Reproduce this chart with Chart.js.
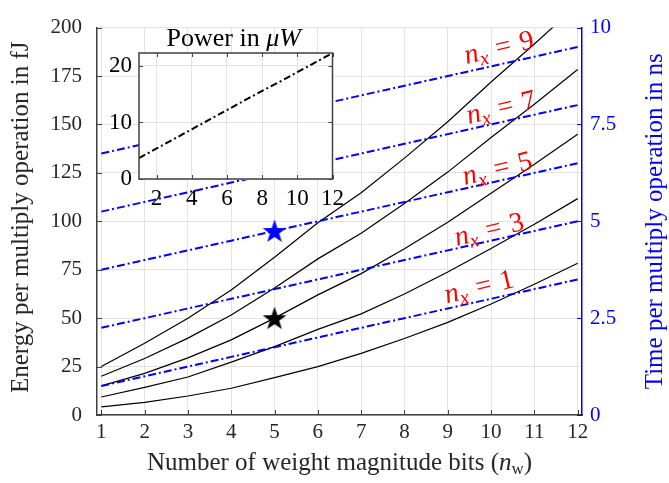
<!DOCTYPE html>
<html>
<head>
<meta charset="utf-8">
<script src="https://cdn.jsdelivr.net/npm/chart.js@4.4.0/dist/chart.umd.min.js"></script>
<style>
  body { margin: 0; background: #fff; }
  #wrap { position: relative; width: 669px; height: 483px; }
  #main { position: absolute; left: 0; top: 0; }
  #inset { position: absolute; left: 90px; top: 20px; }
</style>
</head>
<body>
<div id="wrap">
  <canvas id="main" width="669" height="483"></canvas>
  <canvas id="inset" width="260" height="200"></canvas>
</div>
<script>
// Number of weight magnitude bits (x axis)
const nwBits = [1, 2, 3, 4, 5, 6, 7, 8, 9, 10, 11, 12];

// Energy per multiply operation in fJ, one curve per n_x
const energyNx1 = [4.2, 6.5, 9.8, 13.8, 19.3, 25, 31.8, 39.5, 47.8, 57.3, 67.5, 78.3];
const energyNx3 = [9.3, 14.3, 19.6, 27.3, 35.3, 44.2, 52.2, 62.5, 73.8, 86, 98.5, 111.7];
const energyNx5 = [15, 21.5, 29.5, 38.8, 50, 62, 73, 85.8, 99.5, 114.5, 129.4, 145];
const energyNx7 = [20, 29.2, 39.7, 51.6, 65.6, 80.6, 93.8, 109.2, 125.4, 143.3, 160.4, 178.4];
const energyNx9 = [25, 37, 50, 64.5, 81.4, 99.2, 114.7, 132.6, 151.4, 171.9, 191.5, 211.9];

// Time per multiply operation in ns, one line per n_x
const timeNx1 = [0.75, 1, 1.25, 1.5, 1.75, 2, 2.25, 2.5, 2.75, 3, 3.25, 3.5];
const timeNx3 = [2.25, 2.5, 2.75, 3, 3.25, 3.5, 3.75, 4, 4.25, 4.5, 4.75, 5];
const timeNx5 = [3.75, 4, 4.25, 4.5, 4.75, 5, 5.25, 5.5, 5.75, 6, 6.25, 6.5];
const timeNx7 = [5.25, 5.5, 5.75, 6, 6.25, 6.5, 6.75, 7, 7.25, 7.5, 7.75, 8];
const timeNx9 = [6.75, 7, 7.25, 7.5, 7.75, 8, 8.25, 8.5, 8.75, 9, 9.25, 9.5];

// Power in uW (inset)
const powerUw = [3.7, 5.4, 7.1, 8.8, 10.5, 12.2, 13.9, 15.6, 17.2, 18.9, 20.6, 22.3];

// Highlighted design point
const starNw = [5];
const starEnergy = [50];
const starTime = [4.75];

const nxValues = [1, 3, 5, 7, 9];

// Tick labels
const xTicks = [1, 2, 3, 4, 5, 6, 7, 8, 9, 10, 11, 12];
const energyTicks = [0, 25, 50, 75, 100, 125, 150, 175, 200];
const timeTicks = [0, 2.5, 5, 7.5, 10];
const insetXTicks = [2, 4, 6, 8, 10, 12];
const insetYTicks = [0, 10, 20];

const SERIF = "'Liberation Serif', 'DejaVu Serif', serif";
Chart.defaults.font.family = SERIF;

const energySeries = [energyNx1, energyNx3, energyNx5, energyNx7, energyNx9];
const timeSeries = [timeNx1, timeNx3, timeNx5, timeNx7, timeNx9];

const pts = (xs, ys) => xs.map((x, i) => ({ x: x, y: ys[i] }));

function starImage(color, size) {
    const c = document.createElement('canvas');
    c.width = size; c.height = size;
    const g = c.getContext('2d');
    const cx = size / 2, cy = size / 2 + 1, R = size / 2 - 0.5, r = R * 0.39;
    g.beginPath();
    for (let i = 0; i < 10; i++) {
        const rad = i % 2 ? r : R;
        const a = -Math.PI / 2 + i * Math.PI / 5;
        g.lineTo(cx + rad * Math.cos(a), cy + rad * Math.sin(a));
    }
    g.closePath();
    g.fillStyle = color;
    g.fill();
    return c;
}

// draw a run of text pieces (for subscripts / italics)
function drawPieces(ctx, pieces, cx, cy) {
    let total = 0;
    pieces.forEach(p => {
        ctx.font = p.font;
        p.w = ctx.measureText(p.text).width;
        total += p.w + (p.gap || 0);
    });
    let x = cx - total / 2;
    ctx.textBaseline = 'alphabetic';
    ctx.textAlign = 'left';
    pieces.forEach(p => {
        x += p.gap || 0;
        ctx.font = p.font;
        ctx.fillText(p.text, x, cy + (p.dy || 0));
        x += p.w;
    });
}

const blueLineDatasets = timeSeries.map(t => ({
    data: pts(nwBits, t),
    yAxisID: 'yTime',
    borderColor: '#0000ff',
    borderWidth: 2,
    borderDash: [8, 3, 2, 3],
    pointRadius: 0,
    tension: 0
}));

const blackLineDatasets = energySeries.map(e => ({
    data: pts(nwBits, e),
    yAxisID: 'yEnergy',
    borderColor: '#000000',
    borderWidth: 1.2,
    pointRadius: 0,
    tension: 0
}));

const starDatasets = [
    { data: pts(starNw, starEnergy), yAxisID: 'yEnergy', showLine: false,
      pointStyle: starImage('#000000', 26), pointRadius: 12 },
    { data: pts(starNw, starTime), yAxisID: 'yTime', showLine: false,
      pointStyle: starImage('#0000ff', 26), pointRadius: 12 }
];

// label anchors (data coords) for the red n_x labels
const labelAt = [
    { nw: 9.72, e: 66.5 },
    { nw: 9.95, e: 96 },
    { nw: 10.14, e: 127.5 },
    { nw: 10.23, e: 159 },
    { nw: 10.18, e: 190 }
];

const tickMarks = {
    id: 'tickMarks',
    afterDatasetsDraw(chart) {
        const { ctx, chartArea: a, scales } = chart;
        ctx.save();
        ctx.lineWidth = 1;
        ctx.strokeStyle = '#404040';
        ctx.beginPath();
        xTicks.forEach(v => {
            const px = Math.round(scales.x.getPixelForValue(v)) + 0.5;
            ctx.moveTo(px, a.bottom); ctx.lineTo(px, a.bottom - 5);
        });
        energyTicks.forEach(v => {
            const py = Math.round(scales.yEnergy.getPixelForValue(v)) + 0.5;
            ctx.moveTo(a.left, py); ctx.lineTo(a.left + 5, py);
        });
        ctx.stroke();
        ctx.strokeStyle = '#0000ff';
        ctx.beginPath();
        timeTicks.forEach(v => {
            const py = Math.round(scales.yTime.getPixelForValue(v)) + 0.5;
            ctx.moveTo(a.right, py); ctx.lineTo(a.right - 5, py);
        });
        ctx.stroke();
        ctx.restore();
    }
};

const textLayer = {
    id: 'textLayer',
    afterDraw(chart) {
        const { ctx, chartArea: a, scales } = chart;
        const midY = (a.top + a.bottom) / 2;
        ctx.save();
        // left axis title
        ctx.save();
        ctx.translate(21, midY - 4);
        ctx.rotate(-Math.PI / 2);
        ctx.fillStyle = '#262626';
        ctx.font = '25px ' + SERIF;
        ctx.textAlign = 'center';
        ctx.textBaseline = 'middle';
        ctx.fillText('Energy per multiply operation in fJ', 0, 0);
        ctx.restore();
        // right axis title
        ctx.save();
        ctx.translate(655, midY);
        ctx.rotate(-Math.PI / 2);
        ctx.fillStyle = '#0000ff';
        ctx.font = '25px ' + SERIF;
        ctx.textAlign = 'center';
        ctx.textBaseline = 'middle';
        ctx.fillText('Time per multiply operation in ns', 0, 0);
        ctx.restore();
        // bottom axis title
        ctx.fillStyle = '#262626';
        drawPieces(ctx, [
            { text: 'Number of weight magnitude bits (', font: '25px ' + SERIF },
            { text: 'n', font: 'italic 25px ' + SERIF },
            { text: 'w', font: '17px ' + SERIF, dy: 4 },
            { text: ')', font: '25px ' + SERIF }
        ], (a.left + a.right) / 2, 470);
        // red n_x labels
        ctx.fillStyle = '#ff0000';
        labelAt.forEach((p, i) => {
            ctx.save();
            ctx.translate(scales.x.getPixelForValue(p.nw), scales.yEnergy.getPixelForValue(p.e));
            ctx.rotate(-13.5 * Math.PI / 180);
            drawPieces(ctx, [
                { text: 'n', font: 'italic 28px ' + SERIF },
                { text: 'x', font: 'italic 20px ' + SERIF, dy: 5 },
                { text: '=', font: '28px ' + SERIF, gap: 9 },
                { text: String(nxValues[i]), font: '28px ' + SERIF, gap: 9 }
            ], 0, 9);
            ctx.restore();
        });
        ctx.restore();
    }
};

const tickFont = { family: SERIF, size: 21 };

new Chart(document.getElementById('main'), {
    type: 'line',
    data: { datasets: [...blueLineDatasets, ...blackLineDatasets, ...starDatasets] },
    options: {
        responsive: false,
        animation: false,
        devicePixelRatio: 1,
        layout: { padding: { top: 15, left: 0, right: 0, bottom: 0 } },
        plugins: { legend: { display: false }, tooltip: { enabled: false } },
        scales: {
            x: {
                type: 'linear',
                min: 0.9,
                max: 12.1,
                afterBuildTicks: s => { s.ticks = xTicks.map(v => ({ value: v })); },
                afterFit: s => { s.height = 68; },
                grid: { color: '#e3e3e3', drawTicks: false },
                border: { color: '#404040', width: 1.5 },
                ticks: { color: '#262626', font: tickFont, padding: 5, maxRotation: 0 }
            },
            yEnergy: {
                position: 'left',
                min: 0,
                max: 200,
                afterBuildTicks: s => { s.ticks = energyTicks.map(v => ({ value: v })); },
                afterFit: s => { s.width = 97; },
                grid: { color: '#e3e3e3', drawTicks: false },
                border: { color: '#404040', width: 1.5 },
                ticks: { color: '#262626', font: tickFont, padding: 15 }
            },
            yTime: {
                position: 'right',
                min: 0,
                max: 10,
                afterBuildTicks: s => { s.ticks = timeTicks.map(v => ({ value: v })); },
                afterFit: s => { s.width = 87; },
                grid: { drawOnChartArea: false, drawTicks: false },
                border: { color: '#0000ff', width: 1.5 },
                ticks: { color: '#0000ff', font: tickFont, padding: 8 }
            }
        }
    },
    plugins: [tickMarks, textLayer]
});

// Inset: power
const insetFrame = {
    id: 'insetFrame',
    beforeDraw(chart) {
        const { ctx, chartArea: a } = chart;
        ctx.save();
        ctx.fillStyle = '#ffffff';
        ctx.fillRect(a.left, a.top, a.right - a.left, a.bottom - a.top);
        ctx.restore();
    },
    afterDraw(chart) {
        const { ctx, chartArea: a, scales } = chart;
        ctx.save();
        ctx.strokeStyle = '#404040';
        ctx.lineWidth = 1.5;
        ctx.strokeRect(a.left, a.top, a.right - a.left, a.bottom - a.top);
        ctx.lineWidth = 1;
        ctx.beginPath();
        insetXTicks.forEach(v => {
            const px = Math.round(scales.x.getPixelForValue(v)) + 0.5;
            ctx.moveTo(px, a.bottom); ctx.lineTo(px, a.bottom - 4);
            ctx.moveTo(px, a.top); ctx.lineTo(px, a.top + 4);
        });
        insetYTicks.forEach(v => {
            const py = Math.round(scales.y.getPixelForValue(v)) + 0.5;
            ctx.moveTo(a.left, py); ctx.lineTo(a.left + 4, py);
            ctx.moveTo(a.right, py); ctx.lineTo(a.right - 4, py);
        });
        ctx.stroke();
        ctx.fillStyle = '#000000';
        drawPieces(ctx, [
            { text: 'Power in ', font: '26px ' + SERIF },
            { text: '\u03bcW', font: 'italic 26px ' + SERIF }
        ], (a.left + a.right) / 2 - 2, 26);
        ctx.restore();
    }
};

const insetFont = { family: SERIF, size: 23 };

new Chart(document.getElementById('inset'), {
    type: 'line',
    data: {
        datasets: [{
            data: pts(nwBits, powerUw),
            borderColor: '#000000',
            borderWidth: 2,
            borderDash: [7, 3, 2, 3],
            pointRadius: 0,
            tension: 0
        }]
    },
    options: {
        responsive: false,
        animation: false,
        devicePixelRatio: 1,
        layout: { padding: { top: 33, right: 10.7, left: 0, bottom: 0 } },
        plugins: { legend: { display: false }, tooltip: { enabled: false } },
        scales: {
            x: {
                type: 'linear',
                min: 1,
                max: 12,
                afterBuildTicks: s => { s.ticks = insetXTicks.map(v => ({ value: v })); },
                afterFit: s => { s.height = 41; },
                grid: { color: '#e3e3e3', drawTicks: false },
                border: { display: false },
                ticks: { color: '#000000', font: insetFont, padding: 6, maxRotation: 0 }
            },
            y: {
                min: 0,
                max: 22.3,
                afterBuildTicks: s => { s.ticks = insetYTicks.map(v => ({ value: v })); },
                afterFit: s => { s.width = 49; },
                grid: { color: '#e3e3e3', drawTicks: false },
                border: { display: false },
                ticks: { color: '#000000', font: insetFont, padding: 7 }
            }
        }
    },
    plugins: [insetFrame]
});
</script>
</body>
</html>
